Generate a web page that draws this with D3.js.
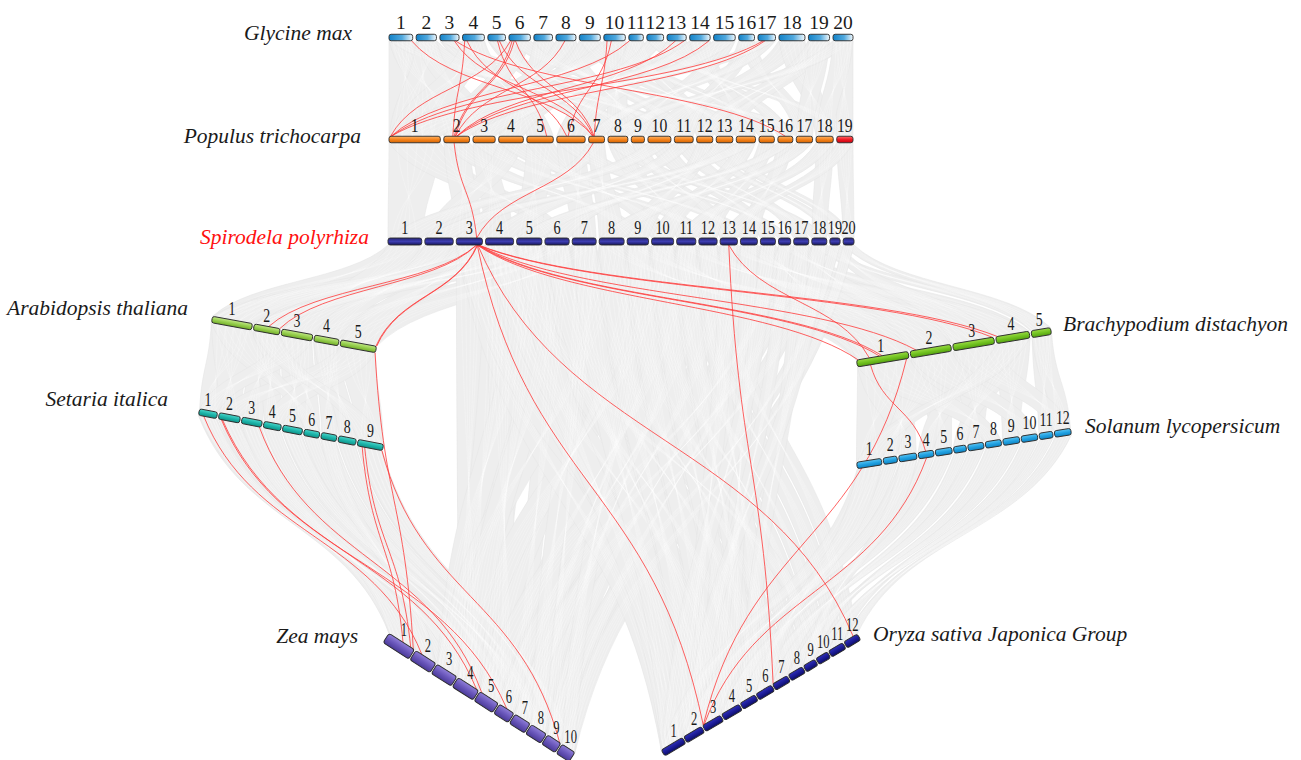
<!DOCTYPE html>
<html>
<head>
<meta charset="utf-8">
<script src="https://cdn.jsdelivr.net/npm/d3@7"></script>
<style>
  body { margin: 0; background: #fff; }
  svg text { font-family: "Liberation Serif", "Times New Roman", serif; }
</style>
</head>
<body>
<svg id="chart" width="1301" height="760"></svg>
<script>
// chromosome lengths (Mb)
const glycineLengths = [56.8, 48.6, 45.8, 52.4, 42.2, 51.4, 44.6, 47.8, 50.2, 51.6, 34.8, 40.1, 45.9, 49.0, 51.8, 37.9, 41.9, 62.3, 50.6, 47.9];
const populusLengths = [50.5, 25.3, 21.8, 24.3, 26.0, 27.9, 15.6, 19.5, 12.9, 22.6, 18.5, 15.8, 16.3, 18.9, 15.1, 14.7, 16.0, 16.9, 16.0];
const spirodelaLengths = [10.6, 8.9, 8.2, 8.8, 7.9, 7.6, 7.5, 7.8, 6.7, 6.9, 6.0, 5.7, 5.4, 5.3, 4.7, 3.8, 4.7, 4.7, 3.2, 3.4];
const arabidopsisLengths = [30.4, 19.7, 23.5, 18.6, 27.0];
const setariaLengths = [42.1, 49.2, 47.0, 40.4, 45.3, 36.0, 35.9, 40.9, 59.0];
const brachypodiumLengths = [75.1, 59.1, 59.8, 48.6, 28.4];
const solanumLengths = [98.5, 55.3, 70.8, 61.0, 65.9, 49.8, 63.0, 63.0, 66.0, 64.8, 54.0, 65.5];
const zeaLengths = [301, 237, 232, 242, 217, 169, 176, 175, 157, 150];
const oryzaLengths = [43.3, 35.9, 36.4, 35.5, 29.9, 31.2, 29.7, 28.4, 23.0, 23.2, 29.0, 27.5];

// collinear blocks (grey background): [chrA, chrB]
const gmPtBlocks = [[1,1],[1,2],[1,11],[2,1],[2,9],[2,3],[3,7],[3,17],[4,1],[4,5],[5,8],[5,10],[6,2],[6,14],[7,4],[7,11],[8,9],[8,2],[9,3],[9,13],[10,1],[10,15],[10,8],[11,12],[11,6],[12,4],[12,19],[13,6],[13,16],[14,2],[14,14],[15,9],[15,3],[16,17],[16,11],[17,7],[17,1],[18,10],[18,18],[19,13],[19,12],[19,17],[20,19],[20,8],[20,18]];
const ptSpBlocks = [[1,1],[1,6],[2,3],[2,9],[3,4],[3,12],[4,2],[4,14],[5,5],[5,10],[6,7],[6,16],[7,3],[7,8],[8,11],[8,18],[9,13],[10,15],[10,1],[11,17],[11,4],[12,19],[12,9],[13,20],[13,6],[14,10],[14,2],[15,12],[16,14],[16,5],[17,8],[18,18],[18,11],[19,20],[19,13]];
const spAtBlocks = [[1,1],[3,1],[2,2],[5,2],[1,3],[4,3],[6,4],[2,4],[7,5],[3,5],[4,1],[6,2]];
const spBdBlocks = [[8,1],[10,1],[12,2],[9,2],[14,3],[11,3],[16,4],[13,4],[18,5],[20,5],[15,1],[17,2],[19,3]];
const atSiBlocks = [[1,1],[1,2],[2,3],[2,4],[3,5],[3,6],[4,7],[4,8],[5,9],[5,2],[1,6],[3,1],[5,4],[2,9]];
const bdSlBlocks = [[1,1],[1,3],[2,2],[2,5],[3,4],[3,7],[4,6],[4,9],[5,11],[5,12],[1,8],[2,10],[3,12],[4,1]];
const siZmBlocks = [[1,1],[2,2],[3,3],[4,4],[5,5],[6,6],[7,7],[8,8],[9,9],[9,10],[2,6],[3,1],[5,8],[7,2],[1,4]];
const spZmBlocks = [[3,4],[4,4],[5,5],[4,6],[5,3],[6,7],[7,9],[8,3],[9,5],[10,4],[10,8],[11,6],[11,9],[12,7],[13,8],[14,9],[15,10],[16,5],[17,6],[18,7],[19,9],[20,10],[6,4],[7,8],[9,10]];
const spOsBlocks = [[3,1],[3,3],[4,2],[4,4],[5,5],[6,6],[7,7],[8,8],[9,9],[10,10],[11,11],[12,12],[4,10],[5,1],[6,3],[7,1],[8,2],[9,3],[10,4],[11,5],[12,6],[13,2],[14,4],[15,1],[16,3],[17,5],[18,2]];
const slOsBlocks = [[1,1],[2,3],[3,2],[4,5],[5,4],[6,7],[7,6],[8,9],[9,8],[10,11],[11,10],[12,12],[1,6],[3,9]];

// highlighted gene pairs (red): [chrA, posA, chrB, posB], pos = fraction along chromosome
const gmPtPairs = [[1,0.95,7,0.3],[3,0.75,7,0.25],[3,0.8,16,0.5],[4,0.1,2,0.35],[4,0.2,6,0.35],[5,0.55,5,0.75],[5,0.65,7,0.3],[6,0.08,1,0.03],[6,0.15,2,0.4],[6,0.25,2,0.45],[6,0.3,7,0.35],[8,0.45,2,0.45],[10,0.15,7,0.35],[10,0.35,6,0.4],[11,0.05,1,0.04],[13,0.45,2,0.5],[13,0.9,1,0.05],[14,0.95,2,0.5],[17,0.3,1,0.04],[17,0.4,2,0.5]];
const ptSpPairs = [[2,0.4,3,0.78],[7,0.3,3,0.78]];
const spAtPairs = [[3,0.78,2,0.55],[3,0.78,2,0.98],[3,0.8,5,0.98],[3,0.82,5,1.0]];
const spBdPairs = [[3,0.8,1,0.03],[3,0.8,1,0.45],[3,0.85,1,0.5],[3,0.82,3,0.97],[3,0.85,4,0.05],[3,0.84,2,0.15],[13,0.5,1,0.25]];
const spOsPairs = [[3,0.8,3,0.05],[3,0.82,12,0.7],[13,0.5,7,0.05]];
const bdSlPairs = [[1,0.25,4,0.5]];
const bdOsPairs = [[1,0.95,3,0.05]];
const slOsPairs = [[4,0.5,3,0.1]];
const siZmPairs = [[1,0.3,2,0.3],[2,0.15,4,0.9],[2,0.2,6,0.5],[3,0.9,5,0.1],[9,0.2,1,0.55],[9,0.3,1,0.85],[9,0.98,9,0.9]];
const atZmPairs = [[5,0.99,1,0.95]];

const svg = d3.select('#chart');
const defs = svg.append('defs');

function grad(id, stops, horizontal) {
  const g = defs.append('linearGradient').attr('id', id)
    .attr('x1', 0).attr('y1', 0)
    .attr('x2', horizontal ? 1 : 0).attr('y2', horizontal ? 0 : 1);
  stops.forEach(([o, c]) => g.append('stop').attr('offset', o).attr('stop-color', c));
}
grad('gGm', [[0, '#1282c8'], [0.55, '#4fa8de'], [1, '#f2f9fd']], true);
grad('gPt', [[0, '#ffb264'], [0.5, '#f5841e'], [1, '#d66400']]);
grad('gPtRed', [[0, '#ff6a6a'], [0.5, '#f01c24'], [1, '#c80010']]);
grad('gSp', [[0, '#262678'], [0.5, '#3d3db0'], [1, '#15155c']]);
grad('gAt', [[0, '#c2e888'], [0.5, '#97cf4e'], [1, '#72ad2a']]);
grad('gSi', [[0, '#4fd6cb'], [0.5, '#1db5aa'], [1, '#0f9187']]);
grad('gBd', [[0, '#9ada44'], [0.5, '#72c321'], [1, '#54a010']]);
grad('gSl', [[0, '#5ac4f3'], [0.5, '#22a2e2'], [1, '#0e84c4']]);
grad('gZm', [[0, '#8f7ed8'], [0.5, '#6a57bb'], [1, '#4a3a98']]);
grad('gOs', [[0, '#2f2fb8'], [0.5, '#1c1c96'], [1, '#0d0d66']]);

const tracks = {
  Gm: { name: 'Glycine max', lengths: glycineLengths, p0: [389, 37.5], p1: [853, 37.5], h: 6.5, gap: 3.5, fill: 'gGm',
        lab: { dx: 0, dy: -9, size: 19.5, sx: 1 }, title: { x: 352, y: 40, anchor: 'end' } },
  Pt: { name: 'Populus trichocarpa', lengths: populusLengths, p0: [389, 139.5], p1: [853, 139.5], h: 6.5, gap: 3.5, fill: 'gPt',
        lab: { dx: 0, dy: -8, size: 18.5, sx: 0.85 }, title: { x: 361, y: 143, anchor: 'end' } },
  Sp: { name: 'Spirodela polyrhiza', lengths: spirodelaLengths, p0: [388, 241.5], p1: [854, 241.5], h: 7, gap: 3.1, fill: 'gSp',
        lab: { dx: 0, dy: -7.5, size: 19, sx: 0.75 }, title: { x: 369, y: 244, anchor: 'end', color: '#ff1010' } },
  At: { name: 'Arabidopsis thaliana', lengths: arabidopsisLengths, p0: [212, 319.5], p1: [376, 349.5], h: 6.5, gap: 1.8, fill: 'gAt',
        lab: { dx: 0, dy: -8, size: 18.5, sx: 0.75 }, title: { x: 188, y: 315, anchor: 'end' } },
  Si: { name: 'Setaria italica', lengths: setariaLengths, p0: [199, 412], p1: [383, 447.5], h: 6.5, gap: 1.8, fill: 'gSi',
        lab: { dx: 0, dy: -8, size: 18.5, sx: 0.75 }, title: { x: 168, y: 406, anchor: 'end' } },
  Bd: { name: 'Brachypodium distachyon', lengths: brachypodiumLengths, p0: [857, 363.5], p1: [1051, 331], h: 7, gap: 2, fill: 'gBd',
        lab: { dx: -2, dy: -7, size: 18.5, sx: 0.75 }, title: { x: 1063, y: 331, anchor: 'start' } },
  Sl: { name: 'Solanum lycopersicum', lengths: solanumLengths, p0: [857, 465.5], p1: [1071, 431.5], h: 6.5, gap: 1.8, fill: 'gSl',
        lab: { dx: 0, dy: -9, size: 18.5, sx: 0.75 }, title: { x: 1085, y: 433, anchor: 'start' } },
  Zm: { name: 'Zea mays', lengths: zeaLengths, p0: [386, 638], p1: [572, 757], h: 11, gap: 1.5, fill: 'gZm',
        lab: { dx: 5, dy: -10, size: 18.5, sx: 0.68 }, title: { x: 358, y: 643, anchor: 'end' } },
  Os: { name: 'Oryza sativa Japonica Group', lengths: oryzaLengths, p0: [663, 753], p1: [859, 637], h: 7, gap: 1.5, fill: 'gOs',
        lab: { dx: 0, dy: -10, size: 18.5, sx: 0.68 }, title: { x: 873, y: 641, anchor: 'start' } }
};

Object.values(tracks).forEach(t => {
  const dx = t.p1[0] - t.p0[0], dy = t.p1[1] - t.p0[1];
  t.len = Math.hypot(dx, dy);
  t.ux = dx / t.len; t.uy = dy / t.len;
  t.angle = Math.atan2(dy, dx) * 180 / Math.PI;
  t.cum = d3.cumsum([0, ...t.lengths]);
  t.scale = d3.scaleLinear()
    .domain([0, d3.sum(t.lengths)])
    .range([0, t.len - t.gap * (t.lengths.length - 1)]);
});

function along(g, chr, f) {
  const t = tracks[g], i = chr - 1;
  return t.scale(t.cum[i] + f * t.lengths[i]) + i * t.gap;
}
function pos(g, chr, f) {
  const t = tracks[g], d = along(g, chr, f);
  return [t.p0[0] + t.ux * d, t.p0[1] + t.uy * d];
}
// move point from the centre line to the bar edge facing the other genome
function edge(g, p, towardY) {
  const t = tracks[g];
  let nx = -t.uy, ny = t.ux;
  if ((towardY > p[1]) !== (ny > 0)) { nx = -nx; ny = -ny; }
  return [p[0] + nx * t.h / 2, p[1] + ny * t.h / 2];
}
function curve(a, b) {
  const mx = (b[0] - a[0]) * 0.22, my = (b[1] - a[1]) * 0.5;
  return `C${a[0] + mx},${a[1] + my} ${b[0] - mx},${b[1] - my} ${b[0]},${b[1]}`;
}
function link(gA, cA, fA, gB, cB, fB) {
  const pa = pos(gA, cA, fA), pb = pos(gB, cB, fB);
  const a = edge(gA, pa, pb[1]), b = edge(gB, pb, pa[1]);
  return `M${a[0]},${a[1]}` + curve(a, b);
}
function ribbon(gA, cA, gB, cB) {
  const pa0 = pos(gA, cA, 0), pa1 = pos(gA, cA, 1);
  const pb0 = pos(gB, cB, 0), pb1 = pos(gB, cB, 1);
  const a0 = edge(gA, pa0, pb0[1]), a1 = edge(gA, pa1, pb1[1]);
  const b0 = edge(gB, pb0, pa0[1]), b1 = edge(gB, pb1, pa1[1]);
  return `M${a0[0]},${a0[1]}` + curve(a0, b0) + `L${b1[0]},${b1[1]}` + curve(b1, a1) + 'Z';
}

const meshSets = [
  ['Gm', 'Pt', gmPtBlocks], ['Pt', 'Sp', ptSpBlocks], ['Sp', 'At', spAtBlocks], ['Sp', 'Bd', spBdBlocks],
  ['At', 'Si', atSiBlocks], ['Bd', 'Sl', bdSlBlocks], ['Si', 'Zm', siZmBlocks], ['Sp', 'Zm', spZmBlocks],
  ['Sp', 'Os', spOsBlocks], ['Sl', 'Os', slOsBlocks]
];
const redSets = [
  ['Gm', 'Pt', gmPtPairs], ['Pt', 'Sp', ptSpPairs], ['Sp', 'At', spAtPairs], ['Sp', 'Bd', spBdPairs],
  ['Sp', 'Os', spOsPairs], ['Bd', 'Sl', bdSlPairs], ['Bd', 'Os', bdOsPairs], ['Sl', 'Os', slOsPairs],
  ['Si', 'Zm', siZmPairs], ['At', 'Zm', atZmPairs]
];

// grey collinear background: opaque ribbons of one tone, then fine streaks
const mesh = svg.append('g').attr('class', 'mesh');
meshSets.forEach(([gA, gB, blocks]) => {
  mesh.selectAll(null).data(blocks).enter().append('path')
    .attr('d', d => ribbon(gA, d[0], gB, d[1]))
    .attr('fill', '#eeeeee')
    .attr('stroke', '#e6e6e6').attr('stroke-width', 0.6);
});
const meshFracs = [0.15, 0.35, 0.55, 0.75, 0.9];
meshSets.forEach(([gA, gB, blocks]) => {
  blocks.forEach(b => {
    mesh.selectAll(null).data(meshFracs).enter().append('path')
      .attr('d', f => link(gA, b[0], f, gB, b[1], 1 - f))
      .attr('fill', 'none').attr('stroke', '#ffffff')
      .attr('stroke-width', 0.5).attr('stroke-opacity', 0.45);
  });
});

// red highlighted links
const red = svg.append('g').attr('class', 'red-links');
redSets.forEach(([gA, gB, pairs]) => {
  red.selectAll(null).data(pairs).enter().append('path')
    .attr('d', d => link(gA, d[0], d[1], gB, d[2], d[3]))
    .attr('fill', 'none').attr('stroke', '#ff3c3c')
    .attr('stroke-width', 0.9).attr('stroke-opacity', 0.9);
});

// chromosome bars, numbers and species names
Object.entries(tracks).forEach(([key, t]) => {
  const g = svg.append('g')
    .attr('transform', `translate(${t.p0[0]},${t.p0[1]}) rotate(${t.angle})`);
  g.selectAll('rect').data(t.lengths).enter().append('rect')
    .attr('x', (d, i) => along(key, i + 1, 0))
    .attr('y', -t.h / 2)
    .attr('width', (d, i) => along(key, i + 1, 1) - along(key, i + 1, 0))
    .attr('height', t.h)
    .attr('rx', Math.min(2.5, t.h / 3))
    .attr('fill', (d, i) => (key === 'Pt' && i === t.lengths.length - 1) ? 'url(#gPtRed)' : `url(#${t.fill})`)
    .attr('stroke', '#2b2b2b').attr('stroke-width', 0.9);

  svg.append('g').selectAll('text').data(t.lengths).enter().append('text')
    .attr('transform', (d, i) => {
      const c = pos(key, i + 1, 0.5);
      return `translate(${c[0] + t.lab.dx},${c[1] + t.lab.dy}) scale(${t.lab.sx},1)`;
    })
    .attr('text-anchor', 'middle')
    .attr('font-size', t.lab.size)
    .attr('fill', '#1a1a1a')
    .text((d, i) => i + 1);

  svg.append('text')
    .attr('x', t.title.x).attr('y', t.title.y)
    .attr('text-anchor', t.title.anchor)
    .attr('font-family', '"Liberation Serif", "Times New Roman", serif')
    .attr('font-style', 'italic')
    .attr('font-size', 21.5)
    .attr('fill', t.title.color || '#1a1a1a')
    .text(t.name);
});
</script>
</body>
</html>
